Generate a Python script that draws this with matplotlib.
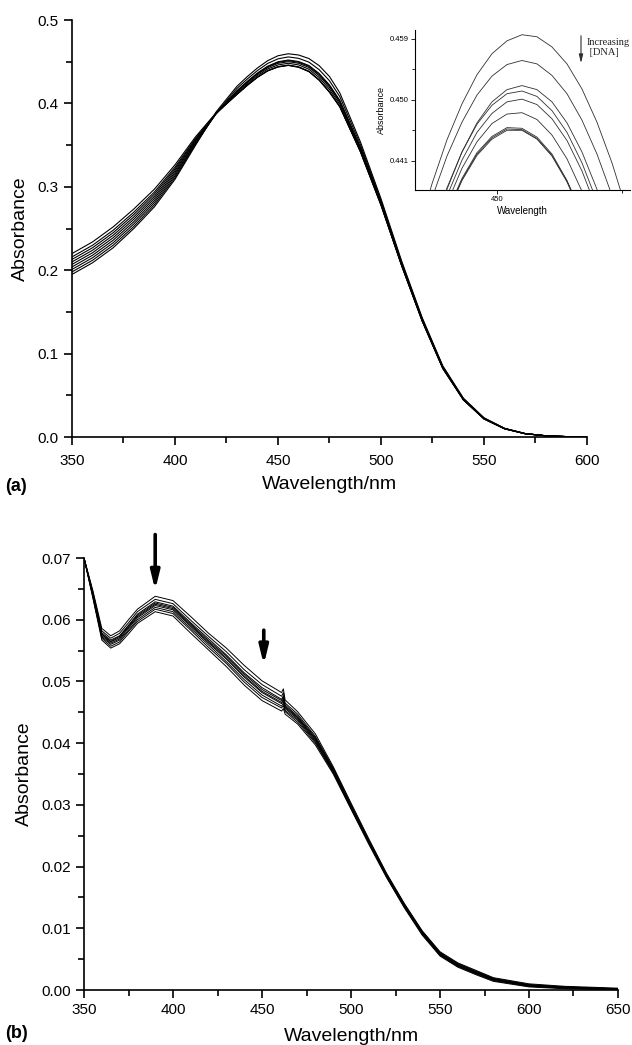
import numpy as np
import matplotlib
matplotlib.use("Agg")
import matplotlib.pyplot as plt
from matplotlib.ticker import MultipleLocator, FormatStrFormatter

plt.rcParams['font.family'] = ['Liberation Sans', 'DejaVu Sans']

# ---- panel (a): absorption spectra, titration with DNA ----
wl_a = [350, 360, 370, 380, 390, 400, 410, 420, 430, 435, 440, 445, 450, 455,
        460, 465, 470, 475, 480, 490, 500, 510, 520, 530, 540, 550, 560, 570,
        580, 590, 600]

abs_a = [
    [.195, .209, .227, .250, .276, .309, .350, .390, .4204, .4320, .4425, .4513, .4572, .4596,
     .4581, .4539, .4453, .4323, .4127, .3540, .2858, .2112, .1432, .0853, .0466, .0231, .0105, .0042,
     .0015, .0005, .0002],
    [.198, .212, .230, .2525, .2785, .311, .3512, .3887, .4178, .4291, .4394, .4480, .4535, .4558,
     .4541, .4496, .4405, .4272, .4082, .3508, .2837, .2097, .1420, .0845, .0460, .0227, .0103, .0041,
     .0015, .0005, .0002],
    [.201, .215, .233, .2554, .2811, .3131, .3522, .3878, .4152, .4263, .4365, .4447, .4500, .4521,
     .4503, .4455, .4359, .4222, .4037, .3476, .2817, .2082, .1409, .0837, .0455, .0223, .0102, .0041,
     .0015, .0005, .0002],
    [.204, .218, .236, .2582, .2836, .3152, .3534, .3881, .4146, .4257, .4358, .4440, .4492, .4513,
     .4494, .4446, .4349, .4211, .4028, .3470, .2813, .2079, .1407, .0835, .0454, .0222, .0101, .0040,
     .0015, .0005, .0002],
    [.207, .221, .239, .2611, .2862, .3173, .3547, .3882, .4138, .4248, .4349, .4430, .4481, .4501,
     .4482, .4432, .4334, .4195, .4013, .3459, .2806, .2074, .1403, .0832, .0452, .0221, .0101, .0040,
     .0015, .0005, .0002],
    [.210, .224, .242, .2639, .2887, .3194, .3558, .3881, .4124, .4234, .4334, .4413, .4462, .4482,
     .4462, .4411, .4310, .4169, .3990, .3443, .2796, .2067, .1398, .0828, .0449, .0219, .0100, .0040,
     .0015, .0005, .0002],
    [.213, .227, .245, .2668, .2913, .3215, .3570, .3878, .4109, .4218, .4316, .4394, .4441, .4460,
     .4439, .4386, .4283, .4140, .3964, .3425, .2784, .2058, .1391, .0823, .0446, .0217, .0099, .0039,
     .0015, .0005, .0002],
    [.216, .230, .248, .2696, .2938, .3236, .3583, .3883, .4108, .4216, .4314, .4392, .4439, .4458,
     .4436, .4384, .4280, .4137, .3962, .3423, .2782, .2057, .1390, .0823, .0445, .0217, .0098, .0039,
     .0015, .0005, .0002],
    [.220, .234, .252, .2734, .2972, .3264, .3601, .3890, .4106, .4215, .4313, .4390, .4437, .4456,
     .4434, .4382, .4278, .4134, .3959, .3421, .2781, .2056, .1390, .0822, .0445, .0217, .0098, .0039,
     .0015, .0005, .0002],
]

# inset: zoom on the band maximum
wl_in = [434, 437, 440, 443, 446, 449, 452, 455, 458, 461, 464, 467, 470, 473, 476]
abs_in = [
    [.4299, .4376, .4441, .4494, .4537, .4568, .4587, .4596, .4593, .4578, .4553, .4516, .4467, .4407, .4336],
    [.4282, .4355, .4417, .4467, .4507, .4535, .4552, .4558, .4553, .4536, .4509, .4470, .4420, .4359, .4287],
    [.4221, .4301, .4368, .4423, .4466, .4497, .4515, .4521, .4515, .4497, .4466, .4423, .4368, .4301, .4221],
    [.4227, .4305, .4370, .4423, .4464, .4492, .4509, .4513, .4505, .4484, .4452, .4407, .4350, .4280, .4199],
    [.4215, .4293, .4358, .4411, .4452, .4480, .4497, .4501, .4493, .4472, .4440, .4395, .4338, .4268, .4187],
    [.4206, .4283, .4347, .4399, .4438, .4465, .4479, .4481, .4471, .4448, .4413, .4365, .4305, .4233, .4148],
    [.4197, .4272, .4334, .4384, .4422, .4446, .4459, .4458, .4445, .4420, .4381, .4331, .4267, .4191, .4102],
    [.4196, .4270, .4332, .4382, .4420, .4444, .4457, .4456, .4443, .4418, .4380, .4330, .4266, .4190, .4101],
    [.4195, .4269, .4331, .4381, .4418, .4442, .4455, .4455, .4442, .4417, .4379, .4329, .4265, .4189, .4100],
]

# ---- panel (b) ----
wl_b = [350, 355, 360, 365, 370, 375, 380, 390, 400, 410, 420, 430, 440, 450, 461, 462,
        463, 470, 480, 490, 500, 510, 520, 530, 540, 550, 560, 570, 580, 600, 620, 650]

abs_b = [
    [.0700, .0647, .0586, .0574, .0582, .0600, .0617, .0638, .0631, .0605, .0578, .0554, .0526, .0501, .0482, .0488,
     .0470, .0451, .0415, .0362, .0303, .0245, .0189, .0140, .0096, .0062, .0044, .0032, .0020, .0010, .0006, .0003],
    [.0700, .0645, .0582, .0570, .0578, .0595, .0613, .0633, .0626, .0599, .0573, .0548, .0519, .0495, .0476, .0482,
     .0465, .0447, .0411, .0360, .0301, .0243, .0188, .0139, .0095, .0061, .0043, .0031, .0019, .0009, .0005, .0002],
    [.0700, .0643, .0579, .0567, .0574, .0591, .0609, .0629, .0622, .0595, .0569, .0543, .0514, .0490, .0471, .0477,
     .0462, .0444, .0409, .0358, .0299, .0242, .0187, .0138, .0094, .0060, .0042, .0030, .0018, .0008, .0005, .0002],
    [.0700, .0642, .0577, .0565, .0573, .0590, .0607, .0627, .0620, .0593, .0566, .0541, .0512, .0487, .0469, .0474,
     .0460, .0442, .0407, .0357, .0298, .0241, .0186, .0137, .0093, .0059, .0041, .0029, .0018, .0008, .0004, .0002],
    [.0700, .0640, .0576, .0564, .0571, .0588, .0605, .0625, .0618, .0591, .0564, .0538, .0509, .0484, .0466, .0471,
     .0458, .0441, .0406, .0355, .0297, .0240, .0185, .0136, .0092, .0058, .0040, .0028, .0017, .0007, .0004, .0002],
    [.0700, .0640, .0574, .0562, .0569, .0586, .0603, .0623, .0616, .0589, .0562, .0536, .0507, .0482, .0464, .0469,
     .0456, .0439, .0404, .0355, .0297, .0240, .0185, .0136, .0092, .0058, .0040, .0028, .0017, .0007, .0004, .0001],
    [.0700, .0638, .0572, .0560, .0567, .0583, .0600, .0620, .0613, .0586, .0559, .0532, .0503, .0478, .0460, .0465,
     .0453, .0437, .0402, .0353, .0295, .0239, .0184, .0135, .0091, .0057, .0039, .0027, .0016, .0006, .0003, .0001],
    [.0700, .0636, .0570, .0557, .0564, .0581, .0597, .0617, .0610, .0583, .0555, .0529, .0499, .0474, .0457, .0461,
     .0451, .0434, .0400, .0352, .0294, .0238, .0183, .0134, .0090, .0056, .0038, .0026, .0015, .0006, .0003, .0001],
    [.0700, .0635, .0567, .0554, .0561, .0577, .0594, .0613, .0606, .0578, .0551, .0524, .0494, .0469, .0452, .0456,
     .0447, .0431, .0397, .0350, .0293, .0236, .0182, .0133, .0089, .0055, .0037, .0025, .0014, .0005, .0002, .0000],
]

fig = plt.figure(figsize=(6.32, 10.45), dpi=100)


def style_axes(ax, fs=11):
    for s in ['top', 'right']:
        ax.spines[s].set_visible(False)
    for s in ['left', 'bottom']:
        ax.spines[s].set_linewidth(1.2)
    ax.tick_params(which='major', direction='out', length=6, width=1.2, labelsize=fs)
    ax.tick_params(which='minor', direction='out', length=4, width=1.2)


# panel (a)
ax_a = fig.add_axes([0.1139, 0.5818, 0.8149, 0.3990])
for y in abs_a:
    ax_a.plot(wl_a, y, color='black', lw=0.8)
ax_a.set_xlim(350, 600)
ax_a.set_ylim(0, 0.5)
ax_a.xaxis.set_major_locator(MultipleLocator(50))
ax_a.xaxis.set_minor_locator(MultipleLocator(25))
ax_a.yaxis.set_major_locator(MultipleLocator(0.1))
ax_a.yaxis.set_minor_locator(MultipleLocator(0.05))
ax_a.yaxis.set_major_formatter(FormatStrFormatter('%.1f'))
style_axes(ax_a)
ax_a.tick_params(axis='x', which='major', pad=6)
ax_a.set_xlabel('Wavelength/nm', fontsize=14, labelpad=6)
ax_a.set_ylabel('Absorbance', fontsize=14, labelpad=6)
fig.text(0.008, 1 - 486 / 1045, '(a)', fontsize=13, fontweight='bold', va='center')

# inset
ax_in = fig.add_axes([0.6566, 0.8182, 0.3402, 0.1531])
for y in abs_in:
    ax_in.plot(wl_in, y, color='#303030', lw=0.6)
ax_in.set_xlim(433.6, 476.6)
ax_in.set_ylim(0.4367, 0.4603)
ax_in.set_xticks([450])
ax_in.xaxis.set_minor_locator(MultipleLocator(25))
ax_in.set_yticks([0.441, 0.450, 0.459])
ax_in.yaxis.set_minor_locator(MultipleLocator(0.0045))
ax_in.yaxis.set_major_formatter(FormatStrFormatter('%.3f'))
for s in ['top', 'right']:
    ax_in.spines[s].set_visible(False)
for s in ['left', 'bottom']:
    ax_in.spines[s].set_linewidth(0.8)
ax_in.tick_params(which='major', direction='out', length=3, width=0.6, labelsize=5.5, pad=1.5)
ax_in.tick_params(which='minor', direction='out', length=2, width=0.6)
ax_in.set_xlabel('Wavelength', fontsize=7, labelpad=2)
ax_in.set_ylabel('Absorbance', fontsize=6.5, labelpad=3)
fig.patches.append(matplotlib.patches.FancyArrowPatch(
    (581 / 632, 1 - 33 / 1045), (581 / 632, 1 - 66 / 1045), transform=fig.transFigure,
    arrowstyle='-|>,head_width=0.12,head_length=0.5', mutation_scale=10, lw=0.8, color='#303030'))
fig.text(587 / 632, 1 - 38 / 1045, 'Increasing\n [DNA]', fontsize=7.5, family='Liberation Serif',
         va='top', ha='left', linespacing=1.2, color='#202020')

# panel (b)
ax_b = fig.add_axes([84 / 632, 1 - 990 / 1045, 534 / 632, 432 / 1045])
for y in abs_b:
    ax_b.plot(wl_b, y, color='black', lw=0.7)
ax_b.set_xlim(350, 650)
ax_b.set_ylim(0, 0.07)
ax_b.xaxis.set_major_locator(MultipleLocator(50))
ax_b.xaxis.set_minor_locator(MultipleLocator(25))
ax_b.yaxis.set_major_locator(MultipleLocator(0.01))
ax_b.yaxis.set_minor_locator(MultipleLocator(0.005))
ax_b.yaxis.set_major_formatter(FormatStrFormatter('%.2f'))
style_axes(ax_b)
ax_b.set_xlabel('Wavelength/nm', fontsize=14, labelpad=8)
ax_b.set_ylabel('Absorbance', fontsize=14, labelpad=6)
fig.text(0.008, 1 - 1033 / 1045, '(b)', fontsize=13, fontweight='bold', va='center')

arrow_kw = dict(arrowstyle='-|>,head_width=0.22,head_length=0.9', lw=2.6, color='black',
                mutation_scale=12, shrinkA=0, shrinkB=0)
ax_b.annotate('', xy=(390, 0.0648), xytext=(390, 0.0738), arrowprops=arrow_kw,
              annotation_clip=False)
ax_b.annotate('', xy=(451, 0.0527), xytext=(451, 0.0583), arrowprops=arrow_kw,
              annotation_clip=False)

fig.savefig('out.png', dpi=100)
